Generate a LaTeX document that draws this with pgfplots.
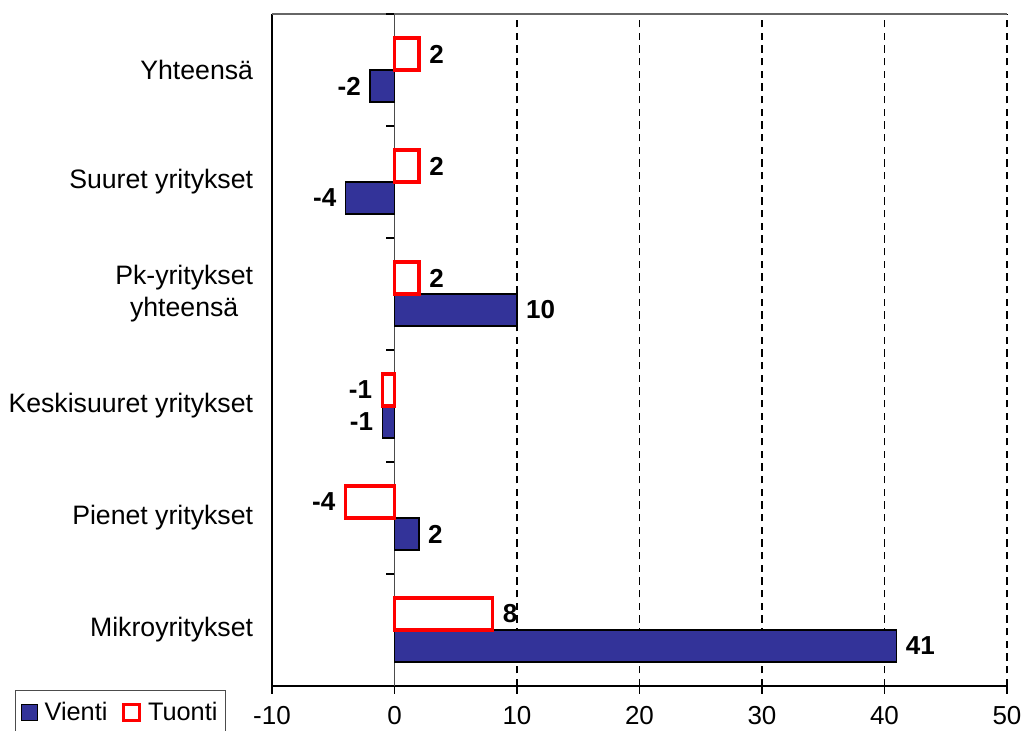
\documentclass[border=0pt]{standalone}
\usepackage{pgfplots}
\pgfplotsset{compat=1.18}
\usepackage{fontspec}
\setmainfont{Liberation Sans}
\definecolor{vienti}{HTML}{333399}
\definecolor{tuonti}{HTML}{FF0000}
\begin{document}
\begin{tikzpicture}[x=1pt,y=1pt]
\useasboundingbox (0,0) rectangle (766.5,548.25);
\begin{axis}[
  at={(204pt,33.75pt)}, anchor=south west,
  scale only axis, width=551.25pt, height=504pt,
  xbar, bar width=24pt,
  xmin=-10, xmax=50, ymin=-0.5, ymax=5.5,
  xtick={-10,0,10,20,30,40,50},
  ytick={0,1,2,3,4,5},
  yticklabels={Mikroyritykset, Pienet yritykset, Keskisuuret yritykset, {Pk-yritykset\\yhteensä}, Suuret yritykset, Yhteensä},
  axis x line*=bottom, axis y line*=left,
  axis line style={black, line width=0.9pt},
  /pgf/number format/assume math mode=true,
  tick align=outside,
  x tick style={black, line width=0.9pt},
  major tick length=6pt,
  y tick style={draw=none},
  xticklabel style={font=\fontsize{19.5}{22}\selectfont, inner sep=0pt, yshift=-9pt},
  yticklabel style={font=\fontsize{20}{24}\selectfont, align=center, inner sep=0pt, xshift=-8pt},
  xmajorgrids, grid style={black, line width=0.8pt, dash pattern=on 5.5pt off 4pt},
  nodes near coords,
  nodes near coords style={font=\fontsize{19.5}{22}\selectfont\bfseries, inner xsep=6.5pt},
  legend image code/.code={\draw[#1] (0pt,-6pt) rectangle (12pt,6pt);},
  legend columns=2,
  legend style={at={(-0.3497,-0.006)}, anchor=north west, draw=black!70, line width=0.8pt,
    font=\fontsize{19}{22}\selectfont, inner xsep=4pt, inner ysep=7pt,
    /tikz/every odd column/.append style={column sep=3pt},
    /tikz/every even column/.append style={column sep=9pt}},
]
\draw[black!70, line width=0.8pt] (axis cs:0,-0.5) -- (axis cs:0,5.5);
\draw[black!60, line width=0.8pt] (rel axis cs:0,1) -- (rel axis cs:1,1);
\pgfplotsinvokeforeach{0.5,1.5,2.5,3.5,4.5,5.5}{
  \draw[black, line width=0.8pt] (axis cs:0,#1) -- ++(-6pt,0pt);
}
\addplot[fill=vienti, draw=black, line width=0.8pt, bar shift=-12pt]
  coordinates {(41,0) (2,1) (-1,2) (10,3) (-4,4) (-2,5)};
\addlegendentry{Vienti}
\addplot[fill=white, draw=tuonti, line width=2.4pt, bar shift=12pt]
  coordinates {(8,0) (-4,1) (-1,2) (2,3) (2,4) (2,5)};
\addlegendentry{Tuonti}
\end{axis}
\end{tikzpicture}
\end{document}
